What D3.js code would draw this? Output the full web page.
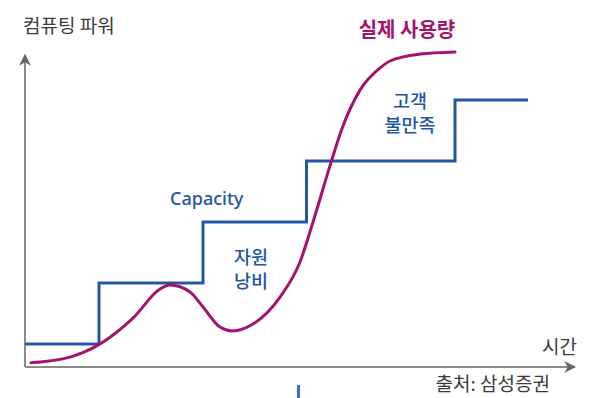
<!DOCTYPE html>
<html>
<head>
<meta charset="utf-8">
<script src="https://d3js.org/d3.v7.min.js"></script>
<style>
  body { margin: 0; background: #fff; }
  text { font-family: "Noto Sans CJK KR", "Noto Sans", sans-serif; }
</style>
</head>
<body>
<svg id="chart"></svg>
<script>
// ---------------------------
// DATA (time units 0-110, power units 0-100)
// ---------------------------
var capacityX = [0, 14.8, 35.6, 56.3, 86, 100.6];
var capacityY = [7.7, 28, 48.3, 68.7, 89];

var usageX = [1.2, 9, 14.6, 21.6, 27, 29, 33, 35.6, 39, 41.4, 45.6, 51, 55, 57.6, 61.3, 63.3, 67, 71, 73, 79, 86];
var usageY = [1.4, 3.3, 7.3, 16.3, 26, 27.3, 25, 20, 13.3, 12, 14.3, 23.3, 35, 48.3, 68.7, 79, 92.3, 99.7, 102, 104.3, 105];

var yAxisTitle = "컴퓨팅 파워";
var xAxisTitle = "시간";
var usageLabel = "실제 사용량";
var capacityLabel = "Capacity";
var wasteLabel = ["자원", "낭비"];
var unhappyLabel = ["고객", "불만족"];
var sourceLabel = "출처: 삼성증권";

// ---------------------------
// CONSTANTS
// ---------------------------
var width = 605, height = 398;
var blue = "#2257a3";
var magenta = "#a3146f";
var axisGrey = "#8a8a8a";
var textGrey = "#3c3c3c";

var svg = d3.select("#chart").attr("width", width).attr("height", height);

var x = d3.scaleLinear().domain([0, 110]).range([25, 575]);
var y = d3.scaleLinear().domain([0, 100]).range([367, 67]);

// arrow marker
svg.append("defs").append("marker")
  .attr("id", "arrow")
  .attr("viewBox", "0 0 10 10")
  .attr("refX", 9).attr("refY", 5)
  .attr("markerWidth", 6).attr("markerHeight", 6)
  .attr("markerUnits", "strokeWidth")
  .attr("orient", "auto")
  .append("path")
  .attr("d", "M0,0 L10,5 L0,10 L3,5 Z")
  .attr("fill", "#666");

// axes
svg.append("line")
  .attr("x1", x(0)).attr("y1", y(0))
  .attr("x2", x(110)).attr("y2", y(0))
  .attr("stroke", axisGrey).attr("stroke-width", 2)
  .attr("marker-end", "url(#arrow)");

svg.append("line")
  .attr("x1", x(0)).attr("y1", y(0))
  .attr("x2", x(0)).attr("y2", y(104))
  .attr("stroke", axisGrey).attr("stroke-width", 2)
  .attr("marker-end", "url(#arrow)");

// capacity step line
var capData = capacityY.map(function(v, i) { return [capacityX[i], v]; });
capData.push([capacityX[capacityX.length - 1], capacityY[capacityY.length - 1]]);

svg.append("path")
  .datum(capData)
  .attr("fill", "none")
  .attr("stroke", blue)
  .attr("stroke-width", 3)
  .attr("d", d3.line()
    .x(function(d) { return x(d[0]); })
    .y(function(d) { return y(d[1]); })
    .curve(d3.curveStepAfter));

// actual usage curve
var useData = usageX.map(function(v, i) { return [v, usageY[i]]; });

svg.append("path")
  .datum(useData)
  .attr("fill", "none")
  .attr("stroke", magenta)
  .attr("stroke-width", 3)
  .attr("stroke-linecap", "round")
  .attr("d", d3.line()
    .x(function(d) { return x(d[0]); })
    .y(function(d) { return y(d[1]); })
    .curve(d3.curveMonotoneX));

// small blue tick fragment below the axis
svg.append("line")
  .attr("x1", x(54.7)).attr("x2", x(54.7))
  .attr("y1", y(-6)).attr("y2", height)
  .attr("stroke", "#3a6fd0").attr("stroke-width", 3);

// texts
svg.append("text")
  .attr("x", 23).attr("y", 33)
  .attr("font-size", 19).attr("fill", textGrey)
  .text(yAxisTitle);

svg.append("text")
  .attr("x", 407).attr("y", 37)
  .attr("text-anchor", "middle")
  .attr("font-size", 20).attr("font-weight", "bold").attr("fill", magenta)
  .text(usageLabel);

svg.append("text")
  .attr("x", 170).attr("y", 205)
  .attr("font-size", 18).attr("font-weight", 500).attr("fill", blue)
  .style("font-family", "'Noto Sans', sans-serif")
  .text(capacityLabel);

function twoLine(lines, cx, y0, dy) {
  var t = svg.append("text")
    .attr("text-anchor", "middle")
    .attr("font-size", 18.5).attr("font-weight", 500).attr("fill", blue);
  lines.forEach(function(s, i) {
    t.append("tspan").attr("x", cx).attr("y", y0 + i * dy).text(s);
  });
}
twoLine(unhappyLabel, 410, 107.5, 24.5);
twoLine(wasteLabel, 251, 263.5, 24.5);

svg.append("text")
  .attr("x", 577).attr("y", 354)
  .attr("text-anchor", "end")
  .attr("font-size", 19).attr("fill", textGrey)
  .text(xAxisTitle);

svg.append("text")
  .attr("x", 550).attr("y", 391)
  .attr("text-anchor", "end")
  .attr("font-size", 19).attr("fill", textGrey)
  .text(sourceLabel);
</script>
</body>
</html>
